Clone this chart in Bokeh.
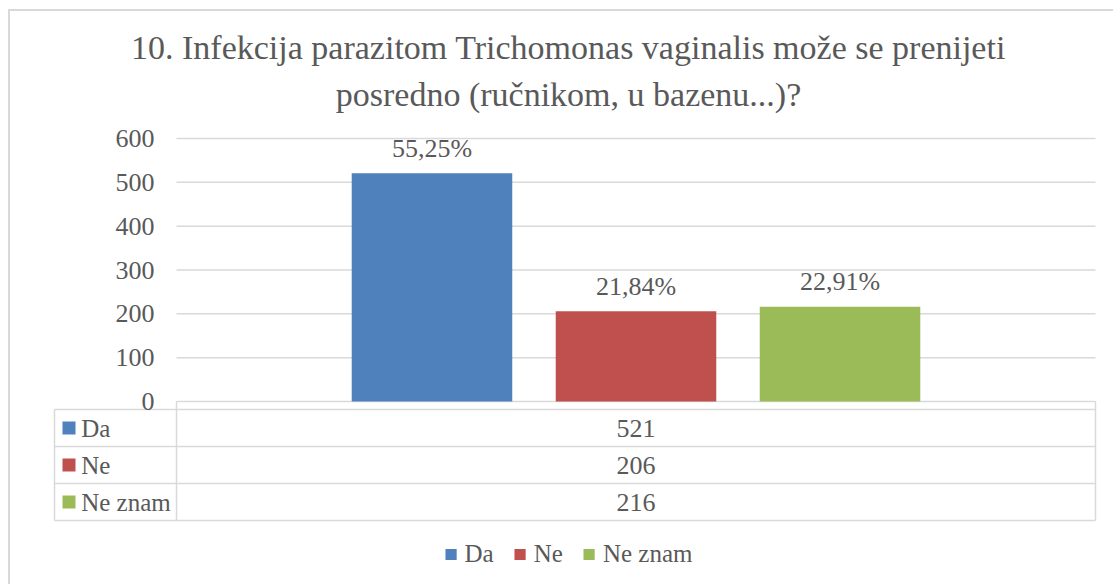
from bokeh.plotting import figure
from bokeh.models import Range1d, FixedTicker, Title, Legend, LegendItem, ColumnDataSource
from bokeh.core.properties import value
from bokeh.embed import file_html
from bokeh.resources import INLINE

# ---- data ----
title_lines = ["10. Infekcija parazitom Trichomonas vaginalis može se prenijeti",
               "posredno (ručnikom, u bazenu...)?"]
series = ["Da", "Ne", "Ne znam"]
counts = [521, 206, 216]
pct_labels = ["55,25%", "21,84%", "22,91%"]
colors = ["#4F81BD", "#C0504D", "#9BBB59"]
y_ticks = [0, 100, 200, 300, 400, 500, 600]

# ---- style / layout constants ----
FONT_NAME = "Liberation Serif"
FONT = value(FONT_NAME)
TXT = "#595959"
LINE = "#d9d9d9"
NUM_SIZE = "26px"
LAB_SIZE = "25px"
ppu = 263.0 / 600.0      # px per y unit
pxu = 919.0              # px per x unit (category band)
band_left = 176.0        # page px of category band start

x_start = (38 - band_left) / pxu
x_end = (1098 - band_left) / pxu
y_top = 600 + 8 / ppu
y_bottom = -(586 - 401) / ppu

table_top = -8 / ppu
row_h = 37 / ppu
row_edges = [table_top - i * row_h for i in range(4)]
row_centers = [table_top - (i + 0.5) * row_h for i in range(3)]
tab_left = (54 - band_left) / pxu

p = figure(width=1105, height=575, output_backend="svg", toolbar_location=None,
           x_range=Range1d(x_start, x_end), y_range=Range1d(y_bottom, y_top),
           x_axis_location=None, min_border_left=28, min_border_right=17,
           min_border_top=119, min_border_bottom=0,
           styles={"margin-left": "8px", "margin-top": "9px",
                   "border-left": "2px solid #d9d9d9", "border-top": "2px solid #d9d9d9"})
p.outline_line_color = None
p.xgrid.visible = False
p.ygrid.visible = False

# y axis
ax = p.yaxis[0]
ax.ticker = FixedTicker(ticks=y_ticks)
ax.axis_line_color = None
ax.major_tick_line_color = None
ax.minor_tick_line_color = None
ax.major_tick_out = 0
ax.major_label_standoff = -116
ax.major_label_text_font = FONT_NAME
ax.major_label_text_font_size = NUM_SIZE
ax.major_label_text_color = TXT

# gridlines (band only) + axis line
p.segment(x0=[0.0] * len(y_ticks), x1=[1.0] * len(y_ticks), y0=y_ticks, y1=y_ticks,
          line_color=LINE, line_width=1.5)

# bars
n = len(series)
centers = [0.5 + (i - (n - 1) / 2) * 0.222 for i in range(n)]
src = ColumnDataSource(dict(x=centers, top=counts, color=colors, lab=pct_labels, s=series))
bars = p.vbar(x="x", top="top", bottom=0, width=0.1747, fill_color="color", line_color=None, source=src)
p.text(x="x", y="top", text="lab", source=src, text_align="center", text_baseline="middle",
       y_offset=-25, text_font=FONT, text_font_size=NUM_SIZE, text_color=TXT)

# data table lines
p.segment(x0=[tab_left] * 4, x1=[1.0] * 4, y0=row_edges, y1=row_edges, line_color=LINE, line_width=1.5)
p.segment(x0=[tab_left, 0.0, 1.0], x1=[tab_left, 0.0, 1.0],
          y0=[table_top, 0.0, 0.0], y1=[row_edges[-1]] * 3, line_color=LINE, line_width=1.5)

# data table contents
tsrc = ColumnDataSource(dict(y=row_centers, s=series, v=[str(c) for c in counts], color=colors))
p.scatter(x=(68.5 - band_left) / pxu, y="y", marker="square", size=13, fill_color="color",
          line_color=None, source=tsrc)
p.text(x=(80.7 - band_left) / pxu, y="y", text="s", source=tsrc, text_align="left",
       text_baseline="middle", text_font=FONT, text_font_size=LAB_SIZE, text_color=TXT)
p.text(x=0.5, y="y", text="v", source=tsrc, text_align="center", text_baseline="middle",
       text_font=FONT, text_font_size=NUM_SIZE, text_color=TXT)

# titles (first added is closest to frame)
p.add_layout(Title(text=title_lines[1], align="center", text_font=FONT_NAME, text_font_size="34px",
                   text_font_style="normal", text_color=TXT, standoff=35), "above")
p.add_layout(Title(text=title_lines[0], align="center", text_font=FONT_NAME, text_font_size="34px",
                   text_font_style="normal", text_color=TXT, standoff=-19), "above")

legend = Legend(items=[LegendItem(label=s, renderers=[bars], index=i) for i, s in enumerate(series)],
                orientation="horizontal", location="bottom_center", glyph_width=14, glyph_height=14,
                label_standoff=7, spacing=19, padding=0, margin=18, border_line_color=None,
                background_fill_alpha=0, label_text_font=FONT_NAME, label_text_font_size=LAB_SIZE,
                label_text_color=TXT)
p.add_layout(legend)

open("out.html", "w").write(file_html(p, INLINE))
